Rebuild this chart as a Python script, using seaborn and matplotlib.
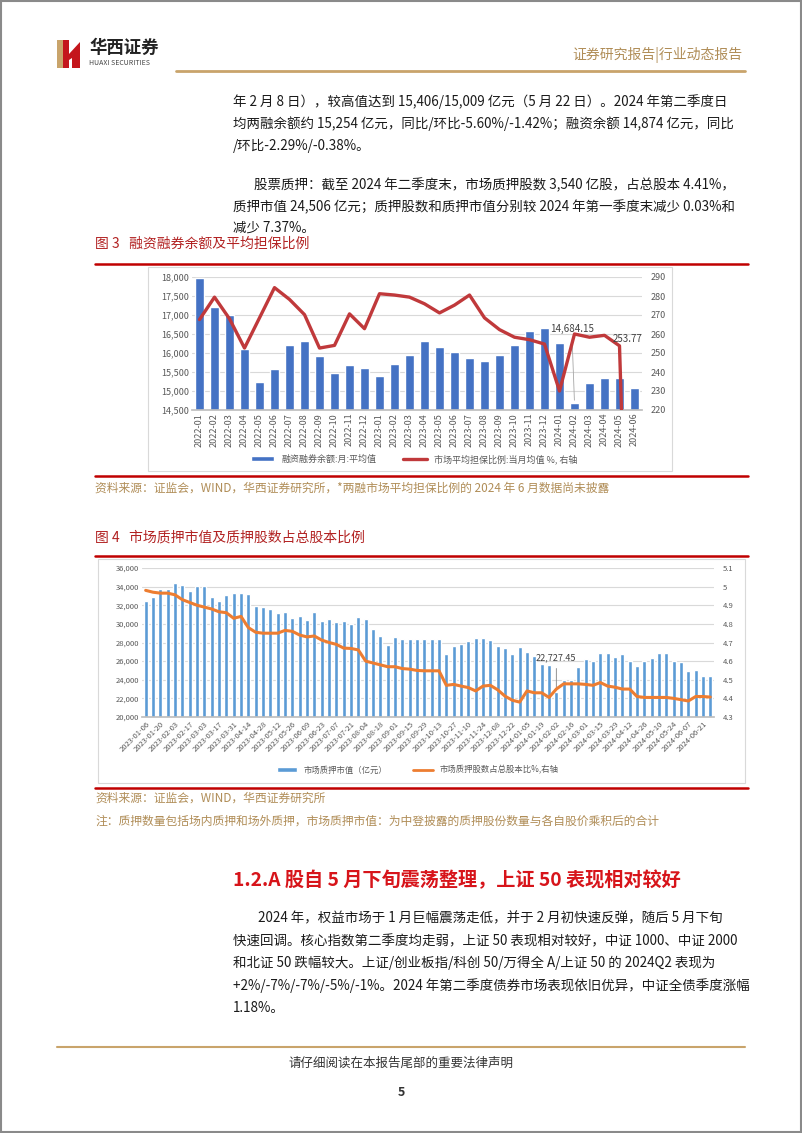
import numpy as np
import pandas as pd
import seaborn as sns
import matplotlib.pyplot as plt
from matplotlib.patches import Rectangle, Patch, Polygon
from matplotlib.lines import Line2D
from matplotlib.ticker import FuncFormatter

sns.set_theme(style="white")
plt.rcParams['font.family'] = ['Noto Sans CJK SC', 'DejaVu Sans']
plt.rcParams['axes.unicode_minus'] = False

W, H = 802, 1133

# Figure 3: margin balance (monthly avg) & avg guarantee ratio
months = pd.date_range("2022-01-01", periods=30, freq="MS").strftime("%Y-%m").tolist()
margin_balance = [17980, 17215, 16990, 16110, 15240, 15566, 16219, 16316, 15910, 15478,
                  15672, 15601, 15390, 15716, 15936, 16316, 16157, 16016, 15866, 15786,
                  15954, 16219, 16589, 16668, 16263, 14684.15, 15204, 15337, 15337, 15072]
guarantee_ratio = [267.6, 279.4, 268.0, 252.6, 268.5, 284.4, 278.2, 270.2, 252.6, 254.0,
                   270.6, 262.8, 281.2, 280.5, 279.4, 275.9, 271.1, 275.2, 280.5, 268.5,
                   262.3, 258.3, 257.0, 254.7, 230.0, 260.0, 258.3, 259.3, 253.77, 0]

# Figure 4: pledged market value & pledged share ratio (weekly)
weeks = pd.date_range("2023-01-06", periods=78, freq="7D").strftime("%Y-%m-%d").tolist()
pledge_value = [32510, 32835, 33730, 33730, 34380, 34200, 33550, 34020, 34020, 32835,
                32510, 33050, 33270, 33270, 33160, 31970, 31830, 31580, 31140, 31290,
                30680, 30890, 30420, 31250, 30350, 30500, 30170, 30350, 29960, 30710,
                30500, 29450, 28730, 27730, 28550, 28340, 28340, 28340, 28340, 28340,
                28340, 26790, 27620, 27800, 28160, 28450, 28450, 28230, 27620, 27370,
                26760, 27550, 26940, 26500, 25680, 25600, 22727.45, 24020, 24020, 25320,
                26180, 26040, 26830, 26830, 26430, 26790, 25960, 25500, 25960, 26320,
                26830, 26900, 26000, 25860, 24920, 25030, 24450, 24450]
pledge_ratio = [4.98, 4.97, 4.965, 4.965, 4.956, 4.93, 4.915, 4.90, 4.89, 4.88,
                4.865, 4.86, 4.83, 4.84, 4.78, 4.755, 4.75, 4.75, 4.75, 4.765,
                4.76, 4.74, 4.73, 4.735, 4.713, 4.70, 4.69, 4.67, 4.668, 4.66,
                4.60, 4.59, 4.58, 4.57, 4.57, 4.56, 4.557, 4.55, 4.548, 4.548,
                4.548, 4.47, 4.475, 4.466, 4.458, 4.44, 4.466, 4.47, 4.446, 4.412,
                4.39, 4.38, 4.44, 4.43, 4.43, 4.405, 4.45, 4.478, 4.478, 4.478,
                4.475, 4.47, 4.485, 4.466, 4.46, 4.45, 4.45, 4.41, 4.405, 4.405,
                4.405, 4.405, 4.40, 4.393, 4.386, 4.41, 4.41, 4.407]

fig = plt.figure(figsize=(W / 100, H / 100), dpi=100)
fig.patch.set_facecolor("white")

def fx(x):
    return x / W

def fy(y):
    return 1 - y / H

def ftext(x, y, s, **kw):
    kw.setdefault("va", "center")
    fig.text(fx(x), fy(y), s, **kw)

def hline(x0, x1, y, color, lw):
    fig.add_artist(Line2D([fx(x0), fx(x1)], [fy(y), fy(y)], color=color, lw=lw))

def box(x0, y0, x1, y1, color="#D9D9D9"):
    fig.add_artist(Rectangle((fx(x0), fy(y1)), fx(x1) - fx(x0), fy(y0) - fy(y1),
                             transform=fig.transFigure, fill=False, ec=color, lw=0.8))

TXT = "#1a1a1a"
GOLD = "#B08D57"
RED = "#B22222"

# page border
fig.add_artist(Rectangle((0.001, 0.001), 0.998, 0.998, transform=fig.transFigure,
                         fill=False, ec="#8a8a8a", lw=1.5))

# header
fig.add_artist(Polygon([(fx(57), fy(40)), (fx(63), fy(40)), (fx(63), fy(68)), (fx(57), fy(68))],
                       closed=True, transform=fig.transFigure, fc="#C9A46B", ec="none"))
fig.add_artist(Polygon([(fx(63), fy(40)), (fx(69), fy(40)), (fx(69), fy(68)), (fx(63), fy(68))],
                       closed=True, transform=fig.transFigure, fc="#C4161C", ec="none"))
fig.add_artist(Polygon([(fx(69), fy(54)), (fx(80), fy(42)), (fx(80), fy(68)), (fx(72), fy(68)), (fx(72), fy(58)), (fx(69), fy(60))],
                       closed=True, transform=fig.transFigure, fc="#C4161C", ec="none"))
ftext(89, 48, "华西证券", fontsize=12.5, fontweight="bold", color="#222222")
ftext(89, 63, "HUAXI SECURITIES", fontsize=5, color="#444444")
ftext(742, 55, "证券研究报告|行业动态报告", fontsize=10, color=GOLD, ha="right")
hline(176, 745, 71, "#C9A46B", 2)

# top paragraph text
body = dict(fontsize=9.7, color=TXT)
ftext(233, 102, "年 2 月 8 日），较高值达到 15,406/15,009 亿元（5 月 22 日）。2024 年第二季度日", **body)
ftext(233, 124, "均两融余额约 15,254 亿元，同比/环比-5.60%/-1.42%；融资余额 14,874 亿元，同比", **body)
ftext(233, 146, "/环比-2.29%/-0.38%。", **body)
ftext(254, 185, "股票质押：截至 2024 年二季度末，市场质押股数 3,540 亿股，占总股本 4.41%，", **body)
ftext(233, 207, "质押市值 24,506 亿元；质押股数和质押市值分别较 2024 年第一季度末减少 0.03%和", **body)
ftext(233, 228, "减少 7.37%。", **body)

# ---------------- Figure 3 ----------------
ftext(95, 244, "图 3   融资融券余额及平均担保比例", fontsize=10, color=RED)
hline(95, 748, 264, "#C00000", 1.8)
box(148, 267, 672, 471)
hline(95, 748, 476, "#C00000", 1.8)
ftext(95, 488, "资料来源：证监会，WIND，华西证券研究所，*两融市场平均担保比例的 2024 年 6 月数据尚未披露",
      fontsize=8.5, color=GOLD)

df3 = pd.DataFrame({"month": months, "balance": margin_balance,
                    "ratio": guarantee_ratio, "pos": range(len(months))})
ax3 = fig.add_axes([fx(192), fy(410), fx(642) - fx(192), fy(277) - fy(410)])
sns.barplot(data=df3, x="month", y="balance", color="#4472C4", saturation=1,
            width=0.55, ax=ax3)
ax3.set_ylim(14500, 18000)
ax3.set_yticks(np.arange(14500, 18001, 500))
ax3.yaxis.set_major_formatter(FuncFormatter(lambda v, p: f"{v:,.0f}"))
ax3.yaxis.grid(True, color="#D9D9D9", lw=0.8)
ax3.set_axisbelow(True)
ax3.set_xlabel("")
ax3.set_ylabel("")
ax3.tick_params(axis="x", rotation=90)
ax3.tick_params(labelsize=6.5, colors="#595959", length=0, pad=2)
for s in ["top", "left", "right"]:
    ax3.spines[s].set_visible(False)
ax3.spines["bottom"].set_color("#BFBFBF")
ax3.patch.set_alpha(0)

ax3r = ax3.twinx()
sns.lineplot(data=df3, x="pos", y="ratio", color="#C0393B", lw=2.4, ax=ax3r)
ax3r.set_ylim(220, 290)
ax3r.set_yticks(np.arange(220, 291, 10))
ax3r.set_ylabel("")
ax3r.tick_params(labelsize=6.5, colors="#595959", length=0, pad=6)
for s in ax3r.spines.values():
    s.set_visible(False)
ax3.set_xlim(-0.5, len(months) - 0.5)

ax3.annotate("14,684.15", xy=(25, margin_balance[25]), xytext=(-2, 50),
             textcoords="offset points", ha="center", va="bottom", fontsize=7,
             color="#404040", arrowprops=dict(arrowstyle="-", color="#A6A6A6", lw=0.6))
ax3r.annotate("253.77", xy=(28, guarantee_ratio[28]), xytext=(6, 1),
              textcoords="offset points", ha="center", va="bottom", fontsize=7, color="#404040")

fig.legend([Patch(facecolor="#4472C4"), Line2D([], [], color="#C0393B", lw=2.4)],
           ["融资融券余额:月:平均值", "市场平均担保比例:当月均值 %, 右轴"],
           loc="center", bbox_to_anchor=(fx(414), fy(459)), ncol=2, frameon=False,
           fontsize=6.5, handlelength=2.6, handleheight=0.5, columnspacing=3,
           labelcolor="#595959")

# ---------------- Figure 4 ----------------
ftext(95, 538, "图 4   市场质押市值及质押股数占总股本比例", fontsize=10, color=RED)
hline(95, 748, 556, "#C00000", 1.8)
box(98, 559, 745, 783)
hline(95, 748, 788, "#C00000", 1.8)
ftext(95, 798, "资料来源：证监会，WIND，华西证券研究所", fontsize=8.5, color=GOLD)
ftext(95, 821, "注：质押数量包括场内质押和场外质押，市场质押市值：为中登披露的质押股份数量与各自股价乘积后的合计",
      fontsize=8.5, color=GOLD)

df4 = pd.DataFrame({"week": weeks, "value": pledge_value,
                    "ratio": pledge_ratio, "pos": range(len(weeks))})
ax4 = fig.add_axes([fx(142), fy(717), fx(714) - fx(142), fy(568) - fy(717)])
sns.barplot(data=df4, x="week", y="value", color="#5B9BD5", saturation=1,
            width=0.55, ax=ax4)
ax4.set_ylim(20000, 36000)
ax4.set_yticks(np.arange(20000, 36001, 2000))
ax4.yaxis.set_major_formatter(FuncFormatter(lambda v, p: f"{v:,.0f}"))
ax4.yaxis.grid(True, color="#D9D9D9", lw=0.8)
ax4.set_axisbelow(True)
ax4.set_xlabel("")
ax4.set_ylabel("")
ax4.set_xticks(range(0, len(weeks), 2))
ax4.set_xticklabels(weeks[::2], rotation=45, ha="right", rotation_mode="anchor")
ax4.tick_params(labelsize=5.5, colors="#595959", length=0, pad=2)
for s in ["top", "left", "right"]:
    ax4.spines[s].set_visible(False)
ax4.spines["bottom"].set_color("#BFBFBF")
ax4.patch.set_alpha(0)

ax4r = ax4.twinx()
sns.lineplot(data=df4, x="pos", y="ratio", color="#ED7D31", lw=2.2, ax=ax4r)
ax4r.set_ylim(4.3, 5.1)
ticks_r = np.round(np.arange(4.3, 5.11, 0.1), 1)
ax4r.set_yticks(ticks_r)
ax4r.set_yticklabels([f"{v:g}" for v in ticks_r])
ax4r.set_ylabel("")
ax4r.tick_params(labelsize=5.5, colors="#595959", length=0, pad=6)
for s in ax4r.spines.values():
    s.set_visible(False)
ax4.set_xlim(-0.5, len(weeks) - 0.5)

ax4.annotate("22,727.45", xy=(56, pledge_value[56]), xytext=(0, 21),
             textcoords="offset points", ha="center", va="bottom", fontsize=6.5,
             color="#404040", arrowprops=dict(arrowstyle="-", color="#808080", lw=0.6))

fig.legend([Patch(facecolor="#5B9BD5"), Line2D([], [], color="#ED7D31", lw=2)],
           ["市场质押市值（亿元）", "市场质押股数占总股本比%,右轴"],
           loc="center", bbox_to_anchor=(fx(418), fy(770)), ncol=2, frameon=False,
           fontsize=6, handlelength=2.4, handleheight=0.6, columnspacing=3,
           labelcolor="#595959")

# ---------------- section heading & paragraph ----------------
ftext(233, 880, "1.2.A 股自 5 月下旬震荡整理，上证 50 表现相对较好", fontsize=13.8,
      fontweight="bold", color="#D7141A")
ftext(258, 918, "2024 年，权益市场于 1 月巨幅震荡走低，并于 2 月初快速反弹，随后 5 月下旬", **body)
ftext(233, 941, "快速回调。核心指数第二季度均走弱，上证 50 表现相对较好，中证 1000、中证 2000", **body)
ftext(233, 963, "和北证 50 跌幅较大。上证/创业板指/科创 50/万得全 A/上证 50 的 2024Q2 表现为", **body)
ftext(233, 986, "+2%/-7%/-7%/-5%/-1%。2024 年第二季度债券市场表现依旧优异，中证全债季度涨幅", **body)
ftext(233, 1008, "1.18%。", **body)

# footer
hline(57, 745, 1047, "#C9A46B", 1.5)
ftext(401, 1063, "请仔细阅读在本报告尾部的重要法律声明", fontsize=9, color="#333333", ha="center")
ftext(401, 1093, "5", fontsize=9, color="#333333", ha="center", fontweight="bold", style="italic")

fig.savefig("out.png", dpi=100)
